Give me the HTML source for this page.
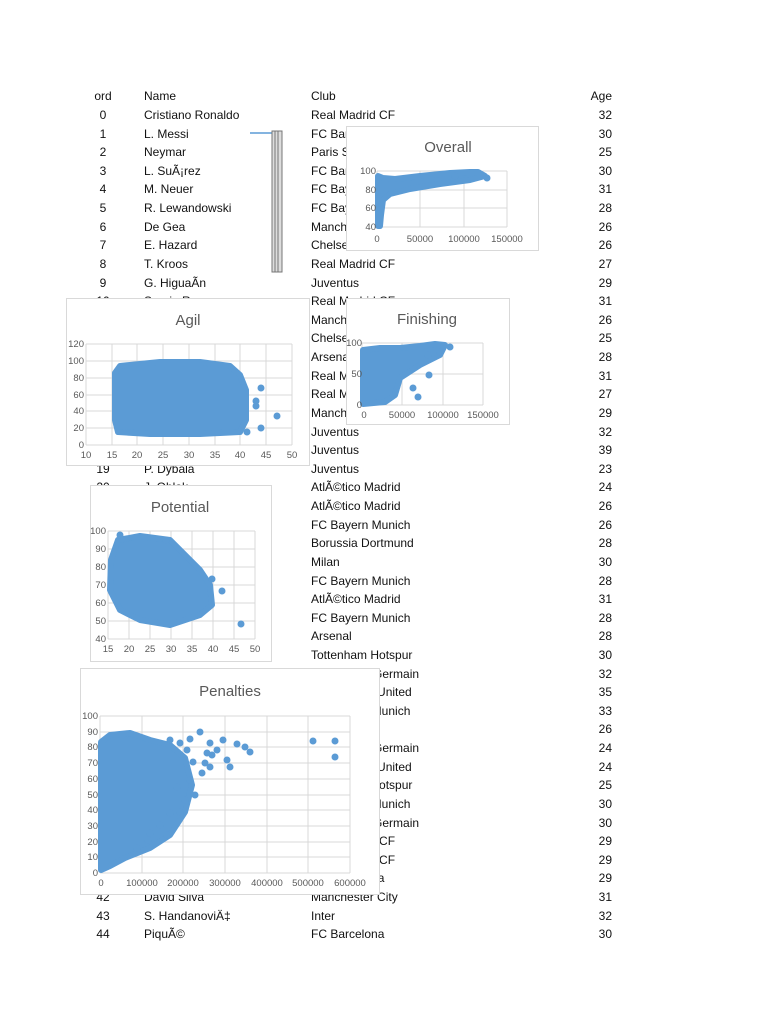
<!DOCTYPE html>
<html><head><meta charset="utf-8"><style>
body{margin:0;width:768px;height:1024px;background:#fff;position:relative;overflow:hidden;font-family:"Liberation Sans",sans-serif;color:#111}
.r{position:absolute;font-size:12px;line-height:14px;white-space:nowrap}
.o{width:30px;text-align:center;left:88px}
.n{left:144px}.c{left:311px}.a{left:580px;width:32px;text-align:right}
.ch{position:absolute;background:#fff;border:1px solid #d9d9d9}
svg text{font-family:"Liberation Sans",sans-serif;fill:#595959}
</style></head><body>
<div id="t"></div>
<svg style="position:absolute;left:0;top:0" width="768" height="1024">
<line x1="250" y1="133" x2="272" y2="133" stroke="#5b9bd5" stroke-width="1.5"/>
<rect x="272" y="131" width="10" height="141" fill="#ddd" stroke="#777" stroke-width="1"/>
<line x1="275" y1="131" x2="275" y2="272" stroke="#777"/><line x1="278" y1="131" x2="278" y2="272" stroke="#777"/>
</svg>

<div class="ch" style="left:346px;top:126px;width:191px;height:123px"></div>
<div class="ch" style="left:66px;top:298px;width:242px;height:166px"></div>
<div class="ch" style="left:346px;top:298px;width:162px;height:125px"></div>
<div class="ch" style="left:90px;top:485px;width:180px;height:175px"></div>
<div class="ch" style="left:80px;top:668px;width:298px;height:225px"></div>

<svg style="position:absolute;left:0;top:0" width="768" height="1024" id="s">
<g stroke="#d9d9d9" stroke-width="1" fill="none">
<!-- Overall grid -->
<path d="M377 171H507M377 190H507M377 208H507M377 227H507M420 171V227M464 171V227M507 171V227M377 171V227"/>
<!-- Agil -->
<path d="M86 344H292M86 361H292M86 378H292M86 395H292M86 411H292M86 428H292M86 445H292M112 344V445M137 344V445M163 344V445M189 344V445M215 344V445M240 344V445M266 344V445M292 344V445M86 344V445"/>
<!-- Finishing -->
<path d="M362 343H483M362 374H483M362 405H483M402 343V405M443 343V405M483 343V405M362 343V405"/>
<!-- Potential -->
<path d="M108 531H255M108 549H255M108 567H255M108 585H255M108 603H255M108 621H255M108 639H255M129 531V639M150 531V639M171 531V639M192 531V639M213 531V639M234 531V639M255 531V639M108 531V639"/>
<!-- Penalties -->
<path d="M100 716H350M100 732H350M100 747H350M100 763H350M100 779H350M100 795H350M100 810H350M100 826H350M100 842H350M100 857H350M100 873H350M142 716V873M183 716V873M225 716V873M267 716V873M308 716V873M350 716V873M100 716V873"/>
</g>
<g fill="#5b9bd5" stroke="#5b9bd5" stroke-width="6" stroke-linejoin="round">
<polygon points="378,226 378,176 383,178 395,179 420,176 450,173 470,172 478,172 485,176 470,180 440,184 410,189 390,194 383,200 381,215 380,226"/>
<polygon points="115,373 120,366 160,362 200,362 230,366 240,375 246,390 246,420 240,432 200,434 150,434 118,432 115,420"/>
<polygon points="363,404 363,350 380,348 400,348 420,346 435,344 445,345 440,355 420,365 400,378 395,395 385,402"/>
<polygon points="111,560 118,540 140,536 170,540 185,555 200,570 210,585 212,605 200,615 170,625 140,620 120,610 110,590"/>
<polygon points="101,870 101,742 110,735 130,733 150,740 170,745 185,758 192,785 185,812 170,835 150,848 125,858 110,866"/>
</g>
<g fill="#5b9bd5" id="d"></g>
<g font-size="15" text-anchor="middle">
<text x="448" y="152">Overall</text><text x="188" y="325">Agil</text><text x="427" y="324">Finishing</text><text x="180" y="512">Potential</text><text x="230" y="696">Penalties</text>
</g>
<g font-size="9.5" text-anchor="end">
<text x="376" y="174">100</text><text x="376" y="193">80</text><text x="376" y="211">60</text><text x="376" y="230">40</text>
<text x="84" y="347">120</text><text x="84" y="364">100</text><text x="84" y="381">80</text><text x="84" y="398">60</text><text x="84" y="414">40</text><text x="84" y="431">20</text><text x="84" y="448">0</text>
<text x="362" y="346">100</text><text x="362" y="377">50</text><text x="362" y="408">0</text>
<text x="106" y="534">100</text><text x="106" y="552">90</text><text x="106" y="570">80</text><text x="106" y="588">70</text><text x="106" y="606">60</text><text x="106" y="624">50</text><text x="106" y="642">40</text>
<text x="98" y="719">100</text><text x="98" y="735">90</text><text x="98" y="750">80</text><text x="98" y="766">70</text><text x="98" y="782">60</text><text x="98" y="798">50</text><text x="98" y="813">40</text><text x="98" y="829">30</text><text x="98" y="845">20</text><text x="98" y="860">10</text><text x="98" y="876">0</text>
</g>
<g font-size="9.5" text-anchor="middle">
<text x="377" y="242">0</text><text x="420" y="242">50000</text><text x="464" y="242">100000</text><text x="507" y="242">150000</text>
<text x="86" y="458">10</text><text x="112" y="458">15</text><text x="137" y="458">20</text><text x="163" y="458">25</text><text x="189" y="458">30</text><text x="215" y="458">35</text><text x="240" y="458">40</text><text x="266" y="458">45</text><text x="292" y="458">50</text>
<text x="364" y="418">0</text><text x="402" y="418">50000</text><text x="443" y="418">100000</text><text x="483" y="418">150000</text>
<text x="108" y="652">15</text><text x="129" y="652">20</text><text x="150" y="652">25</text><text x="171" y="652">30</text><text x="192" y="652">35</text><text x="213" y="652">40</text><text x="234" y="652">45</text><text x="255" y="652">50</text>
<text x="101" y="886">0</text><text x="142" y="886">100000</text><text x="183" y="886">200000</text><text x="225" y="886">300000</text><text x="267" y="886">400000</text><text x="308" y="886">500000</text><text x="350" y="886">600000</text>
</g>
</svg>
<script>
var names=["Cristiano Ronaldo","L. Messi","Neymar","L. SuÃ¡rez","M. Neuer","R. Lewandowski","De Gea","E. Hazard","T. Kroos","G. HiguaÃn","Sergio Ramos","K. De Bruyne","T. Courtois","A. Sánchez","L. Modrić","G. Bale","S. Agüero","G. Chiellini","G. Buffon","P. Dybala","J. Oblak","A. Griezmann","J. Boateng","M. Hummels","L. Bonucci","M. Hummels","Diego Godín","A. Vidal","M. Özil","H. Kane","Thiago Silva","Z. Ibrahimović","A. Robben","L. Suarez","Marquinhos","Ander Herrera","H. Lloris","T. Müller","E. Cavani","Marcelo","Casemiro","Sergio Busquets","David Silva","S. HandanoviÄ‡","PiquÃ©"];
var clubs=["Real Madrid CF","FC Barcelona","Paris Saint-Germain","FC Barcelona","FC Bayern Munich","FC Bayern Munich","Manchester United","Chelsea","Real Madrid CF","Juventus","Real Madrid CF","Manchester City","Chelsea","Arsenal","Real Madrid CF","Real Madrid CF","Manchester City","Juventus","Juventus","Juventus","AtlÃ©tico Madrid","AtlÃ©tico Madrid","FC Bayern Munich","Borussia Dortmund","Milan","FC Bayern Munich","AtlÃ©tico Madrid","FC Bayern Munich","Arsenal","Tottenham Hotspur","Paris Saint-Germain","Manchester United","FC Bayern Munich","","Paris Saint-Germain","Manchester United","Tottenham Hotspur","FC Bayern Munich","Paris Saint-Germain","Real Madrid CF","Real Madrid CF","FC Barcelona","Manchester City","Inter","FC Barcelona"];
var ages=[32,30,25,30,31,28,26,26,27,29,31,26,25,28,31,27,29,32,39,23,24,26,26,28,30,28,31,28,28,30,32,35,33,26,24,24,25,30,30,29,29,29,31,32,30];
var h='<div class="r o" style="top:89px">ord</div><div class="r n" style="top:89px">Name</div><div class="r c" style="top:89px">Club</div><div class="r a" style="top:89px">Age</div>';
for(var i=0;i<45;i++){var y=108+i*18.62;h+='<div class="r o" style="top:'+y+'px">'+i+'</div><div class="r n" style="top:'+y+'px">'+names[i]+'</div><div class="r c" style="top:'+y+'px">'+clubs[i]+'</div><div class="r a" style="top:'+y+'px">'+ages[i]+'</div>';}
document.getElementById('t').innerHTML=h;
var pts=[[487,178],[455,176],[261,388],[277,416],[261,428],[256,401],[256,406],[247,432],[450,347],[429,375],[413,388],[418,397],[428,355],[440,352],[222,591],[241,624],[212,579],[166,540],[120,535],[313,741],[335,741],[335,757],[200,732],[170,740],[180,743],[190,739],[210,743],[223,740],[237,744],[245,747],[250,752],[227,760],[217,750],[190,780],[177,787],[170,813],[180,812],[167,835],[148,840],[137,848],[150,833],[212,755],[210,767],[230,767],[205,763],[187,750],[207,753],[193,762],[202,773],[185,800],[195,795],[160,825]];
var g='';pts.forEach(function(p){g+='<circle cx="'+p[0]+'" cy="'+p[1]+'" r="3.5"/>';});
document.getElementById('d').innerHTML=g;
</script>
</body></html>
